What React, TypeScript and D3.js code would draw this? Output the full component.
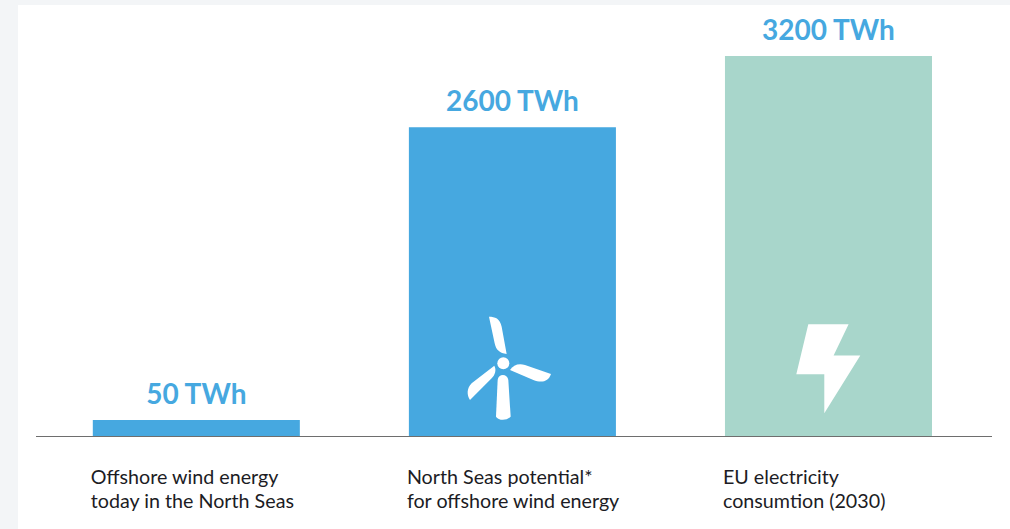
import React from "react";
import * as d3 from "d3";

const categories = ["today", "potential", "consumption"];
const values = [50, 2600, 3200];
const valueLabels = ["50 TWh", "2600 TWh", "3200 TWh"];
const barColors = ["#46a8e0", "#46a8e0", "#a8d6cb"];
const captions = [
  ["Offshore wind energy", "today in the North Seas"],
  ["North Seas potential*", "for offshore wind energy"],
  ["EU electricity", "consumtion (2030)"],
];

const WIDTH = 1010;
const HEIGHT = 529;
const FONT = "Lato, 'Open Sans', sans-serif";
// Very small values keep a readable stub above the baseline.
const MIN_BAR_HEIGHT = 16;

const x = d3.scaleBand().domain(categories).range([92.8, 932]).paddingInner(0.345).paddingOuter(0);
const y = d3.scaleLinear().domain([0, 3200]).range([436, 56]);

// Bolt outline in icon units, origin at the top-left of its bounding box.
const boltPath = "M12 0 L52.3 0 L37.3 31.3 L64 31.3 L28 89 L28 50 L0 50 Z";

// Turbine outlines, drawn on a 3x grid and scaled down when placed.
const turbineBlades = [
  "M267 50 C285 50 300 55 305 80 L320 162 C300 160 288 150 284 130 Z",
  "M330 210 C340 195 355 190 375 195 L453 222 C445 245 425 250 400 240 Z",
  "M283 197 C290 210 285 225 275 235 L210 300 C200 285 200 265 215 250 Z",
  "M293 240 C295 220 322 220 325 240 L332 350 C320 363 295 362 288 350 Z",
];

function Turbine() {
  return (
    <g transform="translate(400,300) scale(0.3333)" fill="#fff">
      <circle cx={310} cy={190} r={18} />
      {turbineBlades.map((d) => (
        <path key={d} d={d} />
      ))}
    </g>
  );
}

export default function App() {
  const bw = x.bandwidth();
  return (
    <svg
      width={WIDTH}
      height={HEIGHT}
      style={{ position: "fixed", left: 0, top: 0, display: "block" }}
    >
      <rect width={WIDTH} height={HEIGHT} fill="#f3f5f7" />
      <rect x={18} y={5} width={WIDTH - 18} height={HEIGHT - 5} fill="#fff" />

      {categories.map((c, i) => {
        const base = y(0);
        const h = Math.max(MIN_BAR_HEIGHT, base - y(values[i]));
        const bx = x(c)!;
        return (
          <g key={c}>
            <rect x={bx} y={base - h} width={bw} height={h} fill={barColors[i]} />
            <text
              x={bx + bw / 2}
              y={base - h - 16}
              textAnchor="middle"
              fontFamily={FONT}
              fontWeight={700}
              fontSize={28}
              fill="#46a8e0"
            >
              {valueLabels[i]}
            </text>
            <text fontFamily={FONT} fontSize={19.7} fill="#1c1c24">
              {captions[i].map((line, k) => (
                <tspan key={k} x={bx - 2} y={484 + k * 24}>
                  {line}
                </tspan>
              ))}
            </text>
          </g>
        );
      })}

      <Turbine />
      <path d={boltPath} transform="translate(796.3,324.3)" fill="#fff" />

      <line x1={36} x2={992} y1={436.5} y2={436.5} stroke="#6e6e6e" strokeWidth={1} />
    </svg>
  );
}
